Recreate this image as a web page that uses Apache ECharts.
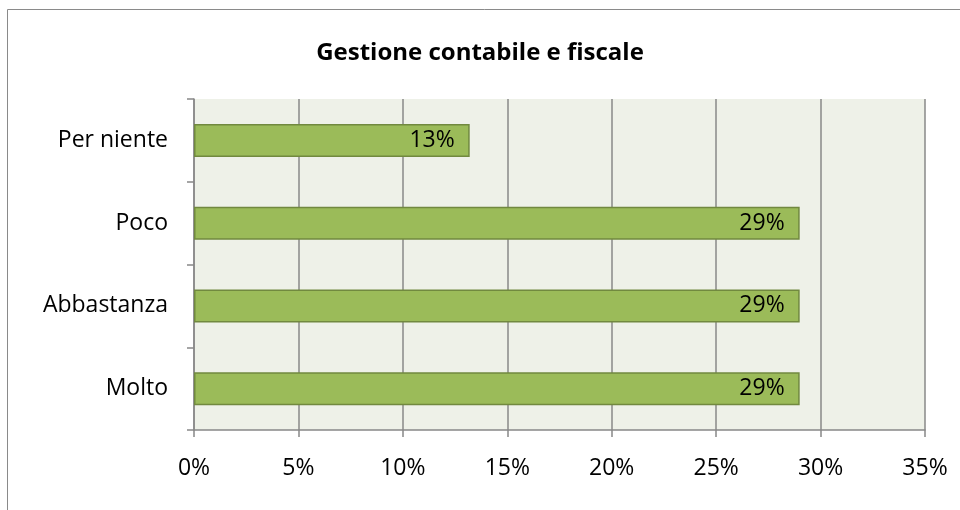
<!DOCTYPE html>
<html><head><meta charset="utf-8">
<script src="https://cdn.jsdelivr.net/npm/echarts@6/dist/echarts.min.js"></script>
<style>html,body{margin:0;padding:0;background:#fff}#c{width:960px;height:510px}</style>
</head><body><div id="c"></div>
<script>
const categories = ['Per niente', 'Poco', 'Abbastanza', 'Molto'];
const values = [13.2, 29, 29, 29];
const xTicks = [0, 5, 10, 15, 20, 25, 30, 35];
const titleText = 'Gestione contabile e fiscale';

const chart = echarts.init(document.getElementById('c'));
const font = '"Open Sans", sans-serif';
chart.setOption({
  animation: false,
  backgroundColor: '#fff',
  title: { text: titleText, left: 'center', top: 36,
    textStyle: { fontFamily: font, fontSize: 24, fontWeight: 'bold', color: '#000' } },
  graphic: [{ type: 'rect', shape: { x: 7.5, y: 9.5, width: 970, height: 520 },
    style: { fill: 'none', stroke: '#8a8a8a', lineWidth: 1 }, silent: true }],
  grid: { left: 194, right: 35, top: 99, bottom: 80, show: true,
    backgroundColor: '#EEF1E8', borderWidth: 0 },
  xAxis: { type: 'value', min: xTicks[0], max: xTicks[xTicks.length - 1], interval: 5,
    axisLine: { show: true, lineStyle: { color: '#888', width: 1.5 } },
    axisTick: { show: true, length: 7, lineStyle: { color: '#888', width: 1.5 } },
    splitLine: { show: true, lineStyle: { color: '#888', width: 1.5 } },
    axisLabel: { formatter: '{value}%', margin: 27, fontFamily: font, fontSize: 23, color: '#000' } },
  yAxis: { type: 'category', data: categories, inverse: true,
    axisLine: { show: true, lineStyle: { color: '#888', width: 1.5 } },
    axisTick: { show: true, length: 7, inside: false, lineStyle: { color: '#888', width: 1.5 } },
    axisLabel: { margin: 26, fontFamily: font, fontSize: 23, color: '#000' } },
  series: [{ type: 'bar', data: values, barWidth: 33,
    itemStyle: { color: '#9BBB59', borderColor: '#71893F', borderWidth: 1.5 },
    label: { show: true, position: 'insideRight', distance: 15,
      formatter: p => Math.round(p.value) + '%',
      fontFamily: font, fontSize: 23, color: '#000' } }]
});
</script></body></html>
